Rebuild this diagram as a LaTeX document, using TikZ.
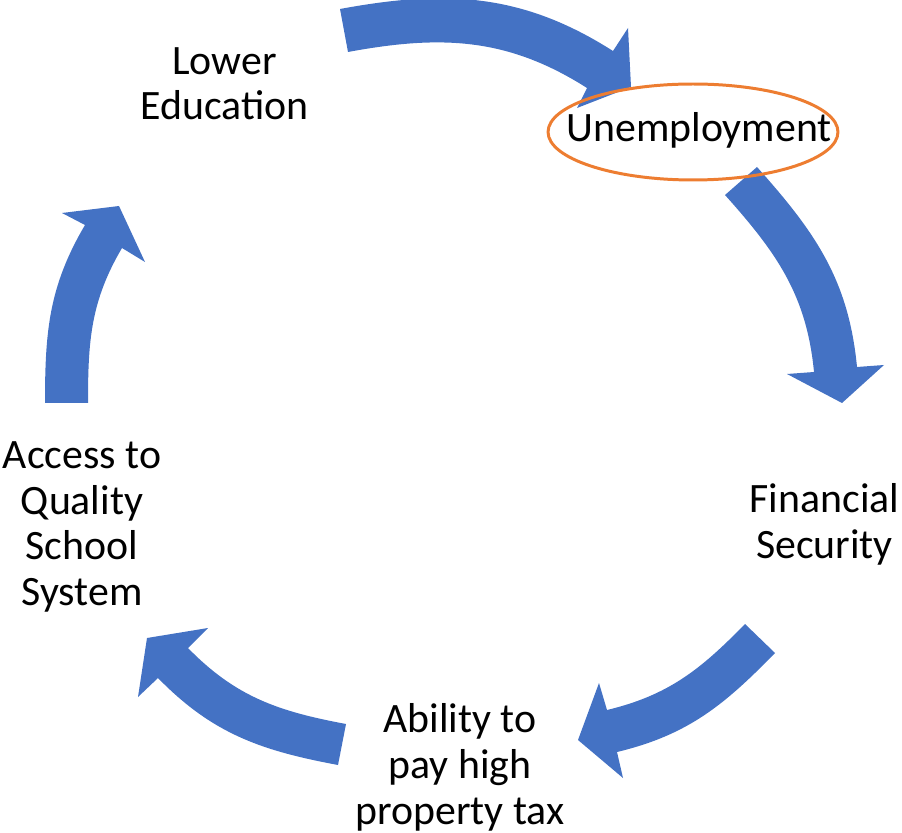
\documentclass[tikz,border=0pt]{standalone}
\usepackage{fontspec}
\setmainfont{Carlito}
\usetikzlibrary{shapes.geometric}

\definecolor{arrowblue}{RGB}{68,114,196}
\definecolor{ringorange}{RGB}{237,125,49}

\begin{document}
\begin{tikzpicture}[
    x=0.02cm,
    y=0.02cm,
    arr/.style={
        fill=arrowblue,
        draw=none,
    },
    txt/.style={
        align=center,
        inner sep=0pt,
        anchor=base,
        font=\fontsize{23.8}{25.9}\selectfont,
    },
    ring/.style={
        ellipse,
        draw=ringorange,
        line width=1.7pt,
        inner sep=0pt,
        minimum width=5.8cm,
        minimum height=1.92cm,
    },
]
\useasboundingbox (0,0) rectangle (902,832);

% the five steps of the cycle (placed at the baseline of the last line)
\node[txt] (lower)  at (224.5,712) {Lower\\Education};
\node[txt] (unemp)  at (699,690)   {Unemployment};
\node[txt] (fin)    at (824.5,273.5) {Financial\\Security};
\node[txt] (pay)    at (460,8)     {Ability to\\pay high\\property tax};
\node[txt] (access) at (82,226.5)  {Access to\\Quality\\School\\System};

% curved block arrows, clockwise
\fill[arr] (340,823) to[out=10.5,in=147.5] (613,781) -- (628,804) -- (631,745)
    -- (577,724) -- (587,744) to[out=147.5,in=10.5] (348,780) -- cycle;
\fill[arr] (757,665) to[out=-48.2,in=95.5] (857,465) -- (884,467) -- (842,429)
    -- (787,458) -- (814,460) to[out=95.5,in=-48.2] (725,637) -- cycle;
\fill[arr] (775,179) to[out=-134.3,in=13.5] (617,80) -- (623,54) -- (578,92)
    -- (599,149) -- (607,122) to[out=13.5,in=-134.3] (745,208) -- cycle;
\fill[arr] (338,67) to[out=169.4,in=-45.7] (158,154) -- (138,135) -- (147,194)
    -- (208,204) -- (188,184) to[out=-45.7,in=169.4] (346,108) -- cycle;
\fill[arr] (45,429) to[out=90,in=239.5] (85,607) -- (62,619) -- (119,626)
    -- (145,570) -- (122,584) to[out=239.5,in=90] (88,429) -- cycle;

\node[ring] (mark) at (693,700) {};

\end{tikzpicture}
\end{document}
